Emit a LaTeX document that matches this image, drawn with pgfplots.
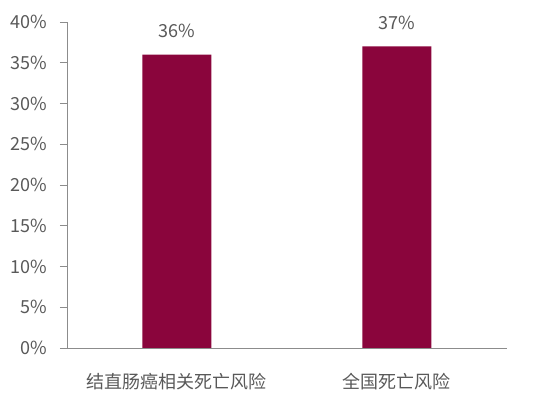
\documentclass[border=0pt]{standalone}
\usepackage{pgfplots}
\pgfplotsset{compat=1.18}
\usepackage{fontspec}
\setmainfont{Noto Sans CJK SC}
\definecolor{barred}{HTML}{8A053C}
\definecolor{txtgray}{HTML}{595959}
\definecolor{axgray}{HTML}{8C8C8C}
\begin{document}
\begin{tikzpicture}
\path[use as bounding box] (-67pt,-61pt) rectangle (483pt,348pt);
\begin{axis}[
    at={(0pt,0pt)}, anchor=south west,
    scale only axis, width=440pt, height=326pt,
    xmin=-0.5, xmax=1.5, ymin=0, ymax=40,
    axis x line=bottom, axis y line=left,
    axis line style={axgray, line width=0.9pt, -},
    xtick=data,
    xticklabels={结直肠癌相关死亡风险, 全国死亡风险},
    xtick style={draw=none},
    ytick={0,5,...,40},
    yticklabel={\pgfmathprintnumber{\tick}\%},
    ytick style={axgray, line width=0.9pt},
    tick align=outside, major tick length=7pt,
    ticklabel style={text=txtgray, font=\fontsize{18}{21}\selectfont},
    xticklabel style={yshift=-15pt},
    yticklabel style={xshift=-9pt},
    /pgf/number format/assume math mode=true,
    ybar, bar width=69pt,
    nodes near coords={\pgfmathprintnumber{\pgfplotspointmeta}\%},
    nodes near coords style={text=txtgray, font=\fontsize{18}{21}\selectfont, yshift=13pt},
]
\addplot[fill=barred, draw=none] coordinates {(0,36) (1,37)};
\end{axis}
\end{tikzpicture}
\end{document}
